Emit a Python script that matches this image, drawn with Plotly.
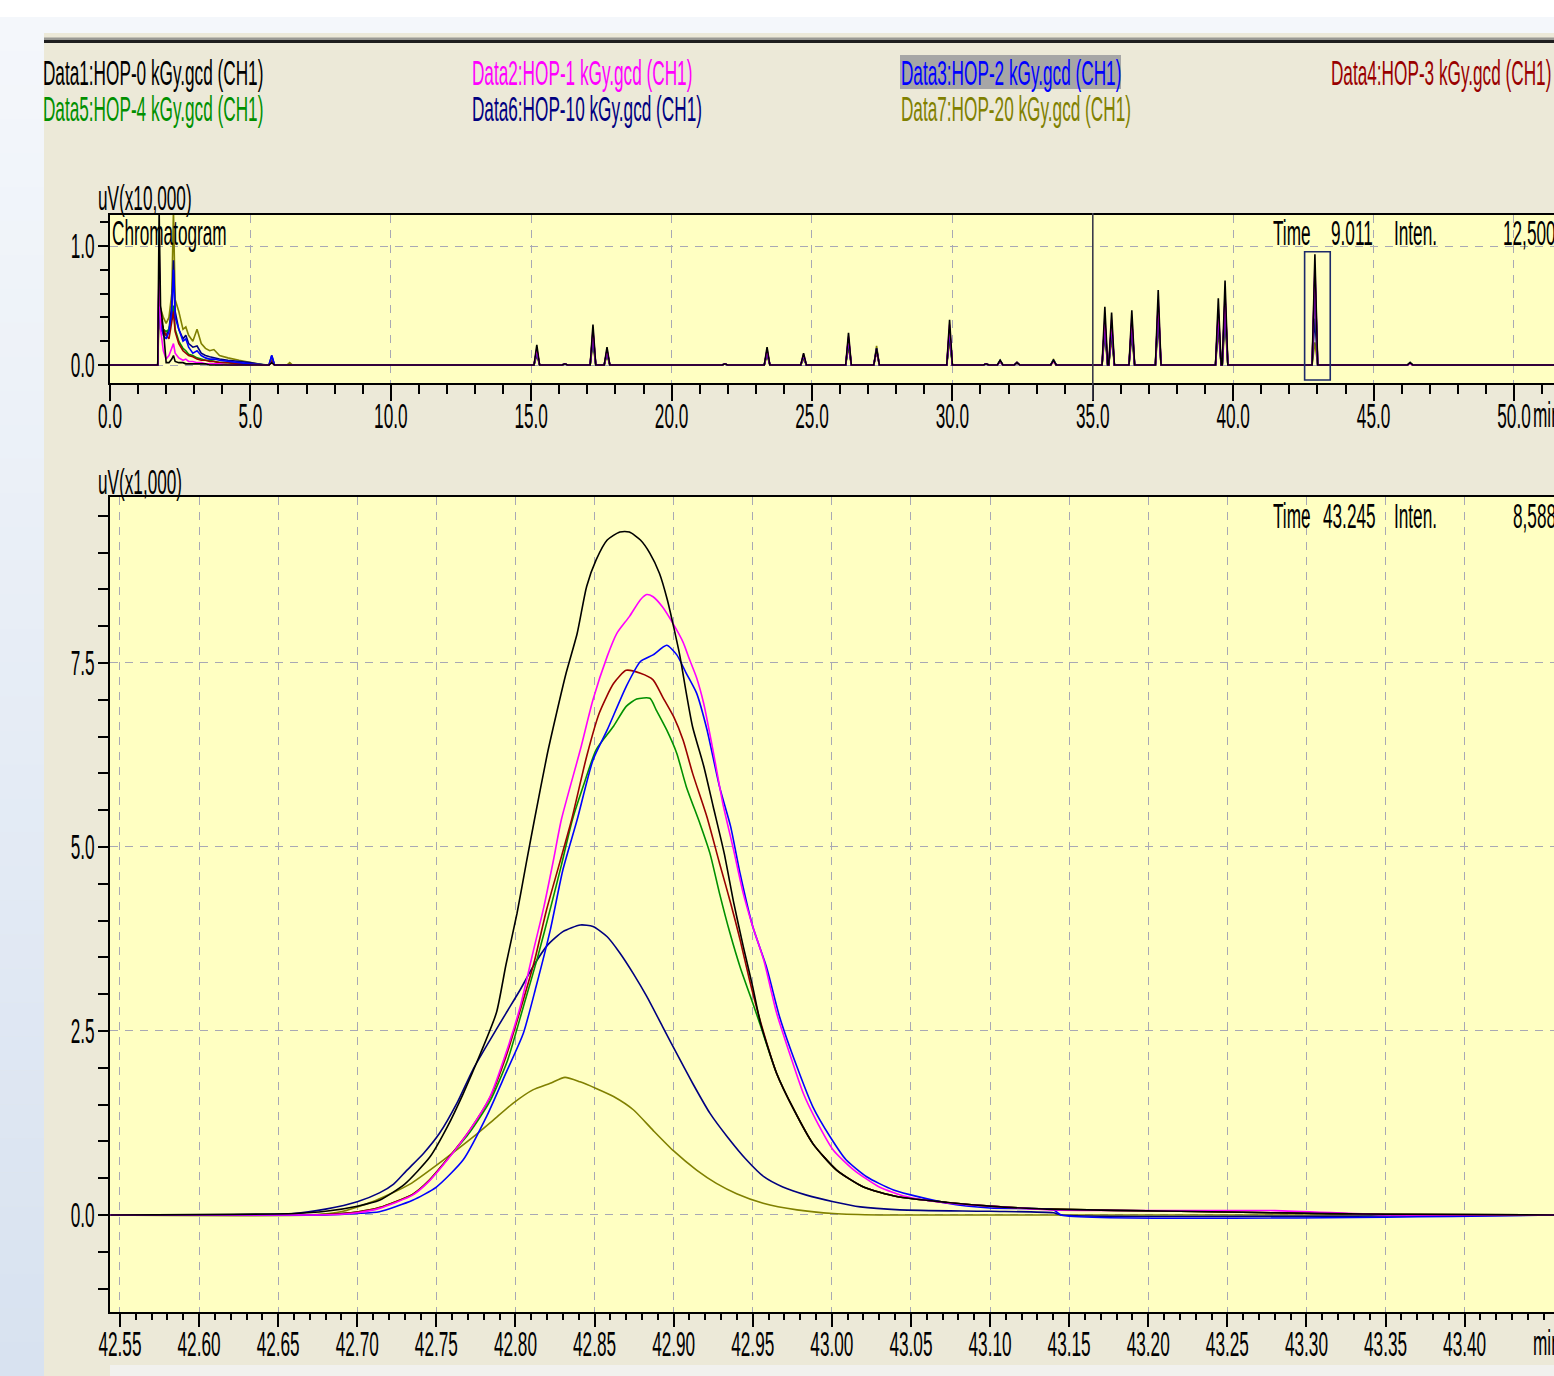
import plotly.graph_objects as go

W, H = 1554, 1376
FONT = "Liberation Sans, Arial, sans-serif"
FS = 17.2          # horizontal metrics of the reference lettering
STRETCH_Y = 2.05   # the reference lettering is tall and narrow

# ---------------- data ----------------
series_names = [
    "Data1:HOP-0 kGy.gcd (CH1)", "Data2:HOP-1 kGy.gcd (CH1)", "Data3:HOP-2 kGy.gcd (CH1)",
    "Data4:HOP-3 kGy.gcd (CH1)", "Data5:HOP-4 kGy.gcd (CH1)", "Data6:HOP-10 kGy.gcd (CH1)",
    "Data7:HOP-20 kGy.gcd (CH1)",
]
series_colors = ["#000000", "#FF00FF", "#0000FF", "#990000", "#009000", "#000080", "#808000"]

# zoomed window (min, uV x1,000)
x1 = [42.544, 42.66, 42.68, 42.70, 42.714, 42.73, 42.746, 42.757, 42.767, 42.778, 42.788, 42.794, 42.801,
      42.807, 42.812, 42.820, 42.826, 42.832, 42.839, 42.845, 42.851, 42.858, 42.866, 42.872, 42.879, 42.885,
      42.891, 42.896, 42.900, 42.904, 42.908, 42.912, 42.919, 42.925, 42.932, 42.938, 42.944, 42.950, 42.955,
      42.965, 42.976, 42.988, 43.003, 43.020, 43.041, 43.073, 43.100, 43.136, 43.22, 43.28, 43.35, 43.46]
y1 = [0, 0.02, 0.05, 0.12, 0.20, 0.42, 0.79, 1.20, 1.65, 2.20, 2.75, 3.40, 4.10, 4.80, 5.37, 6.25, 6.82, 7.36,
      7.90, 8.54, 8.90, 9.17, 9.28, 9.28, 9.17, 8.99, 8.72, 8.36, 7.99, 7.59, 7.09, 6.63, 6.10, 5.55, 4.91, 4.24,
      3.65, 3.10, 2.60, 1.93, 1.43, 0.97, 0.61, 0.38, 0.25, 0.17, 0.12, 0.08, 0.05, 0.03, 0.01, 0.0]

x2 = [42.544, 42.67, 42.69, 42.70, 42.714, 42.735, 42.745, 42.757, 42.771, 42.784, 42.794, 42.803, 42.811,
      42.818, 42.824, 42.829, 42.841, 42.849, 42.858, 42.864, 42.872, 42.879, 42.883, 42.887, 42.893, 42.900,
      42.906, 42.910, 42.9145, 42.919, 42.925, 42.931, 42.938, 42.944, 42.950, 42.957, 42.965, 42.974, 42.982,
      42.990, 43.001, 43.014, 43.030, 43.047, 43.07, 43.10, 43.14, 43.22, 43.28, 43.355, 43.46]
y2 = [0, 0, 0.01, 0.03, 0.09, 0.27, 0.45, 0.75, 1.15, 1.61, 2.20, 2.83, 3.56, 4.19, 4.82, 5.37, 6.32, 7.00,
      7.59, 7.90, 8.13, 8.36, 8.43, 8.40, 8.26, 8.02, 7.78, 7.55, 7.30, 6.95, 6.30, 5.60, 4.95, 4.37, 3.92, 3.46,
      2.75, 2.15, 1.65, 1.29, 0.88, 0.61, 0.38, 0.25, 0.17, 0.12, 0.07, 0.06, 0.06, 0.0, 0.0]

x3 = [42.544, 42.68, 42.70, 42.714, 42.735, 42.750, 42.767, 42.782, 42.794, 42.805, 42.813, 42.822, 42.830,
      42.839, 42.849, 42.858, 42.870, 42.879, 42.887, 42.8956, 42.902, 42.908, 42.9145, 42.921, 42.929, 42.936,
      42.942, 42.950, 42.9587, 42.967, 42.978, 42.988, 42.999, 43.009, 43.022, 43.039, 43.073, 43.10, 43.14,
      43.145, 43.46]
y3 = [0, 0, 0.02, 0.045, 0.20, 0.38, 0.75, 1.35, 1.93, 2.47, 3.10, 3.87, 4.69, 5.37, 6.18, 6.59, 7.18, 7.52,
      7.61, 7.74, 7.61, 7.36, 7.09, 6.60, 5.82, 5.28, 4.64, 3.92, 3.37, 2.69, 2.01, 1.47, 1.06, 0.75, 0.52, 0.34,
      0.16, 0.095, 0.07, 0.0, 0.0]

x4 = [42.544, 42.67, 42.69, 42.70, 42.714, 42.735, 42.745, 42.757, 42.771, 42.784, 42.794, 42.803, 42.812,
      42.8197, 42.8275, 42.8355, 42.845, 42.853, 42.862, 42.870, 42.879, 42.887, 42.893, 42.900, 42.906, 42.912,
      42.921, 42.929, 42.936, 42.942, 42.948, 42.955, 42.965, 42.976, 42.988, 43.003, 43.020, 43.041, 43.073,
      43.10, 43.136, 43.22, 43.28, 43.35, 43.46]
y4 = [0, 0, 0.02, 0.04, 0.10, 0.28, 0.46, 0.76, 1.15, 1.60, 2.15, 2.78, 3.45, 4.15, 4.75, 5.37, 6.23, 6.82,
      7.22, 7.40, 7.36, 7.27, 7.04, 6.77, 6.45, 6.00, 5.41, 4.78, 4.24, 3.74, 3.19, 2.62, 1.93, 1.43, 0.97, 0.61,
      0.38, 0.25, 0.17, 0.12, 0.08, 0.05, 0.03, 0.01, 0]

x5 = [42.544, 42.67, 42.69, 42.70, 42.714, 42.735, 42.745, 42.757, 42.771, 42.784, 42.795, 42.805, 42.814,
      42.8224, 42.829, 42.836, 42.844, 42.851, 42.862, 42.870, 42.8766, 42.885, 42.889, 42.8956, 42.902, 42.908,
      42.9166, 42.923, 42.929, 42.9356, 42.942, 42.950, 42.9545, 42.965, 42.976, 42.988, 43.003, 43.020, 43.041,
      43.073, 43.10, 43.136, 43.22, 43.28, 43.35, 43.46]
y5 = [0, 0, 0.02, 0.04, 0.10, 0.28, 0.46, 0.76, 1.12, 1.55, 2.10, 2.83, 3.50, 4.19, 4.75, 5.37, 5.90, 6.32,
      6.64, 6.91, 7.01, 7.02, 6.86, 6.59, 6.27, 5.82, 5.32, 4.91, 4.37, 3.83, 3.37, 2.88, 2.60, 1.93, 1.43, 0.97,
      0.61, 0.38, 0.25, 0.17, 0.12, 0.08, 0.05, 0.03, 0.01, 0]

x6 = [42.544, 42.66, 42.68, 42.70, 42.714, 42.723, 42.731, 42.742, 42.752, 42.763, 42.773, 42.784, 42.794,
      42.803, 42.811, 42.820, 42.830, 42.841, 42.849, 42.858, 42.866, 42.8745, 42.883, 42.893, 42.904, 42.912,
      42.923, 42.934, 42.946, 42.957, 42.969, 42.984, 43.001, 43.018, 43.043, 43.10, 43.14, 43.145, 43.46]
y6 = [0, 0.02, 0.08, 0.18, 0.30, 0.42, 0.60, 0.84, 1.11, 1.52, 1.97, 2.38, 2.74, 3.06, 3.37, 3.66, 3.85, 3.94,
      3.92, 3.78, 3.56, 3.28, 2.97, 2.56, 2.11, 1.79, 1.38, 1.06, 0.75, 0.52, 0.38, 0.27, 0.18, 0.11, 0.07, 0.05,
      0.03, 0, 0]

x7 = [42.544, 42.67, 42.691, 42.712, 42.7333, 42.754, 42.7733, 42.786, 42.7986, 42.811, 42.822, 42.8313,
      42.8408, 42.851, 42.862, 42.8745, 42.887, 42.900, 42.9145, 42.927, 42.9398, 42.9566, 42.978, 43.001,
      43.03, 43.46]
y7 = [0, 0, 0.05, 0.20, 0.42, 0.74, 1.06, 1.29, 1.52, 1.70, 1.79, 1.87, 1.81, 1.72, 1.61, 1.43, 1.15, 0.87,
      0.61, 0.43, 0.29, 0.16, 0.07, 0.02, 0, 0]

zoom_x = [x1, x2, x3, x4, x5, x6, x7]
zoom_y = [y1, y2, y3, y4, y5, y6, y7]

# overview chromatogram (min, uV x10,000): solvent region samples
solvent_t = [1.70, 1.75, 1.80, 1.90, 2.00, 2.10, 2.20, 2.26, 2.32, 2.45, 2.60, 2.70, 2.80, 2.95, 3.10, 3.25,
             3.40, 3.55, 3.70, 3.90, 4.20, 4.60, 5.00, 5.50]
solvent_h = [
    [0, 1.30, 0.50, 0.30, 0.02, 0.02, 0.05, 0.08, 0.03, 0.02, 0.02, 0.01, 0.01, 0.01, 0.01, 0.01, 0.01, 0, 0, 0, 0, 0, 0, 0],
    [0, 0.95, 0.30, 0.12, 0.05, 0.08, 0.15, 0.18, 0.10, 0.06, 0.04, 0.05, 0.03, 0.03, 0.02, 0.02, 0.01, 0.01, 0.01, 0.01, 0, 0, 0, 0],
    [0, 0.85, 0.35, 0.25, 0.22, 0.28, 0.45, 0.80, 0.40, 0.30, 0.20, 0.22, 0.15, 0.10, 0.12, 0.08, 0.06, 0.05, 0.05, 0.04, 0.03, 0.02, 0.01, 0],
    [0, 0.80, 0.40, 0.30, 0.25, 0.22, 0.35, 0.45, 0.28, 0.18, 0.12, 0.10, 0.08, 0.07, 0.05, 0.04, 0.04, 0.03, 0.03, 0.02, 0.02, 0.01, 0.01, 0],
    [0, 0.75, 0.38, 0.30, 0.28, 0.30, 0.40, 0.50, 0.30, 0.20, 0.14, 0.12, 0.09, 0.08, 0.06, 0.05, 0.04, 0.04, 0.03, 0.02, 0.02, 0.01, 0.01, 0],
    [0, 0.60, 0.30, 0.27, 0.25, 0.30, 0.50, 0.88, 0.45, 0.30, 0.22, 0.25, 0.18, 0.15, 0.16, 0.10, 0.08, 0.07, 0.06, 0.05, 0.04, 0.03, 0.02, 0],
    [0, 0.45, 0.48, 0.40, 0.35, 0.40, 0.60, 1.30, 0.55, 0.45, 0.30, 0.32, 0.25, 0.20, 0.30, 0.18, 0.14, 0.12, 0.13, 0.08, 0.06, 0.04, 0.02, 0],
]
# overview: discrete peaks (retention time, apex height per series)
peak_t = [5.76, 6.4, 15.2, 16.2, 17.2, 17.7, 21.9, 23.4, 24.7, 26.3, 27.3, 29.9, 31.2, 31.7, 32.3, 33.6,
          35.43, 35.67, 36.39, 37.33, 39.47, 39.71, 42.91, 46.3]
peak_h = [
    [0.02, 0.00, 0.17, 0.01, 0.34, 0.15, 0.01, 0.15, 0.10, 0.27, 0.14, 0.38, 0.01, 0.04, 0.02, 0.04, 0.49, 0.44, 0.46, 0.63, 0.56, 0.71, 0.93, 0.02],
    [0.02, 0.00, 0.14, 0.01, 0.30, 0.13, 0.01, 0.13, 0.09, 0.24, 0.13, 0.34, 0.01, 0.03, 0.02, 0.03, 0.40, 0.38, 0.40, 0.55, 0.47, 0.60, 0.84, 0.01],
    [0.08, 0.00, 0.12, 0.01, 0.27, 0.12, 0.01, 0.12, 0.08, 0.22, 0.14, 0.30, 0.01, 0.03, 0.02, 0.04, 0.36, 0.34, 0.36, 0.50, 0.43, 0.55, 0.77, 0.01],
    [0.03, 0.00, 0.13, 0.01, 0.28, 0.12, 0.01, 0.12, 0.08, 0.22, 0.12, 0.30, 0.01, 0.03, 0.02, 0.03, 0.36, 0.33, 0.36, 0.50, 0.42, 0.56, 0.74, 0.01],
    [0.03, 0.00, 0.12, 0.01, 0.26, 0.11, 0.01, 0.11, 0.07, 0.20, 0.12, 0.28, 0.01, 0.03, 0.02, 0.03, 0.34, 0.31, 0.34, 0.47, 0.40, 0.52, 0.70, 0.01],
    [0.08, 0.00, 0.10, 0.01, 0.22, 0.10, 0.01, 0.10, 0.07, 0.18, 0.12, 0.25, 0.01, 0.04, 0.02, 0.04, 0.30, 0.28, 0.30, 0.40, 0.35, 0.45, 0.39, 0.02],
    [0.04, 0.02, 0.08, 0.01, 0.18, 0.08, 0.01, 0.08, 0.05, 0.15, 0.16, 0.20, 0.01, 0.03, 0.02, 0.05, 0.25, 0.22, 0.24, 0.33, 0.28, 0.36, 0.19, 0.02],
]
peak_halfwidth = 0.1  # drawing style for the overview spikes

over_x_ticks = [0, 5, 10, 15, 20, 25, 30, 35, 40, 45, 50]
over_x_text = ["0.0", "5.0", "10.0", "15.0", "20.0", "25.0", "30.0", "35.0", "40.0", "45.0", "50.0"]
over_y_ticks = [0.0, 1.0]
over_y_text = ["0.0", "1.0"]
zoom_x_ticks = [42.55, 42.60, 42.65, 42.70, 42.75, 42.80, 42.85, 42.90, 42.95, 43.00, 43.05, 43.10, 43.15,
                43.20, 43.25, 43.30, 43.35, 43.40]
zoom_x_text = ["%.2f" % v for v in zoom_x_ticks]
zoom_y_ticks = [0.0, 2.5, 5.0, 7.5]
zoom_y_text = ["0.0", "2.5", "5.0", "7.5"]

cursor_time = 35.0
over_range_x = [0, 51.425]
over_range_y = [-0.151, 1.2605]
zoom_range_x = [42.5437, 43.4565]
zoom_range_y = [-1.318, 9.755]
zoom_box_y = [-0.126, 0.952]


# ---------------- helpers ----------------
def pxx(x):
    return x / W


def pxy(y):
    return 1 - y / H


fig = go.Figure()

# overview traces (drawn olive first, black last)
for i in reversed(range(7)):
    xs = [0.0] + list(solvent_t)
    ys = [0.0] + list(solvent_h[i])
    for t, h in zip(peak_t, peak_h[i]):
        xs += [t - peak_halfwidth, t, t + peak_halfwidth]
        ys += [0.0, h, 0.0]
    xs.append(over_range_x[1] + 1)
    ys.append(0.0)
    fig.add_trace(go.Scatter(x=xs, y=ys, mode="lines", xaxis="x2", yaxis="y2",
                             line=dict(color=series_colors[i], width=1.6), showlegend=False,
                             name=series_names[i], hoverinfo="skip"))

# zoomed traces
for i in reversed(range(7)):
    fig.add_trace(go.Scatter(x=zoom_x[i], y=zoom_y[i], mode="lines", xaxis="x", yaxis="y",
                             line=dict(color=series_colors[i], width=1.6, shape="spline", smoothing=0.6),
                             showlegend=False, name=series_names[i], hoverinfo="skip"))

tickfont = dict(family=FONT, size=FS, color="#000000")
grid_common = dict(gridcolor="#A8A8B4", griddash="8px,7px", gridwidth=1)
minor_common = dict(tickwidth=1.5, tickcolor="#000", ticks="outside", showgrid=False)

fig.update_layout(
    template="none",
    width=W, height=H,
    margin=dict(l=0, r=0, t=0, b=0, pad=0),
    paper_bgcolor="#ECE9D8",
    plot_bgcolor="#FFFFC2",
    showlegend=False,
    xaxis=dict(domain=[pxx(110), 1.0], range=zoom_range_x, anchor="y", automargin=False,
               tickmode="array", tickvals=zoom_x_ticks, ticktext=zoom_x_text,
               ticks="outside", ticklen=13, tickwidth=1.5, tickcolor="#000",
               minor=dict(tick0=42.55, dtick=0.01, ticklen=6, **minor_common),
               showline=True, linecolor="#000", linewidth=2, mirror=True,
               showgrid=True, **grid_common, zeroline=False, tickfont=tickfont, ticklabelstandoff=2),
    yaxis=dict(domain=[pxy(1312), pxy(497)], range=zoom_range_y, anchor="x", automargin=False,
               tickmode="array", tickvals=zoom_y_ticks, ticktext=zoom_y_text,
               ticks="outside", ticklen=10, tickwidth=1.5, tickcolor="#000",
               minor=dict(tick0=0, dtick=0.5, ticklen=10, **minor_common),
               showline=True, linecolor="#000", linewidth=2, mirror=False,
               showgrid=True, **grid_common, zeroline=False, tickfont=tickfont, ticklabelstandoff=0),
    xaxis2=dict(domain=[pxx(110), 1.0], range=over_range_x, anchor="y2", automargin=False,
                tickmode="array", tickvals=over_x_ticks, ticktext=over_x_text,
                ticks="outside", ticklen=16, tickwidth=1.5, tickcolor="#000",
                minor=dict(tick0=0, dtick=1, ticklen=9, **minor_common),
                showline=True, linecolor="#000", linewidth=2, mirror=True,
                showgrid=True, **grid_common, zeroline=False, tickfont=tickfont, ticklabelstandoff=0),
    yaxis2=dict(domain=[pxy(383), pxy(215)], range=over_range_y, anchor="x2", automargin=False,
                tickmode="array", tickvals=over_y_ticks, ticktext=over_y_text,
                ticks="outside", ticklen=10, tickwidth=1.5, tickcolor="#000",
                minor=dict(tick0=0, dtick=0.2, ticklen=8, **minor_common),
                showline=True, linecolor="#000", linewidth=2, mirror=False,
                showgrid=True, **grid_common, zeroline=False, tickfont=tickfont, ticklabelstandoff=0),
)


def mix(c1, c2, f):
    a = [int(c1[i:i + 2], 16) for i in (1, 3, 5)]
    b = [int(c2[i:i + 2], 16) for i in (1, 3, 5)]
    return "#%02X%02X%02X" % tuple(round(a[k] + (b[k] - a[k]) * f) for k in range(3))


shapes = []
# page chrome
shapes.append(dict(type="rect", xref="paper", yref="paper", x0=0, x1=1, y0=pxy(33), y1=1,
                   fillcolor="#F4F7FB", line=dict(width=0), layer="below"))
shapes.append(dict(type="rect", xref="paper", yref="paper", x0=0, x1=1, y0=pxy(17), y1=1,
                   fillcolor="#FFFFFF", line=dict(width=0), layer="below"))
n_bands = 40
for k in range(n_bands):
    y0 = 17 + k * (H - 17) / n_bands
    y1_ = 17 + (k + 1) * (H - 17) / n_bands + 0.5
    c = mix("#F4F7FB", "#D8E2F0", k / (n_bands - 1))
    shapes.append(dict(type="rect", xref="paper", yref="paper", x0=0, x1=pxx(44), y0=pxy(y1_), y1=pxy(y0),
                       fillcolor=c, line=dict(width=0), layer="below"))
shapes.append(dict(type="rect", xref="paper", yref="paper", x0=pxx(44), x1=1, y0=pxy(40), y1=pxy(37.5),
                   fillcolor="#9A9A94", line=dict(width=0), layer="below"))
shapes.append(dict(type="rect", xref="paper", yref="paper", x0=pxx(44), x1=1, y0=pxy(43), y1=pxy(40),
                   fillcolor="#1E1E1E", line=dict(width=0), layer="below"))
# bottom scrollbar strip
shapes.append(dict(type="rect", xref="paper", yref="paper", x0=pxx(110), x1=1, y0=0, y1=pxy(1365),
                   fillcolor="#F1F1EE", line=dict(width=0), layer="below"))
# highlight behind Data3 legend entry
shapes.append(dict(type="rect", xref="paper", yref="paper", x0=pxx(900), x1=pxx(1121), y0=pxy(89), y1=pxy(55),
                   fillcolor="#A6A6A6", line=dict(width=0), layer="below"))
# zoom box on the overview
shapes.append(dict(type="rect", xref="x2", yref="y2", x0=zoom_range_x[0], x1=zoom_range_x[1],
                   y0=zoom_box_y[0], y1=zoom_box_y[1], line=dict(color="#1C2A6A", width=1.6),
                   fillcolor="rgba(0,0,0,0)", layer="above"))
# cursor line on the overview
shapes.append(dict(type="line", xref="x2", yref="paper", x0=cursor_time, x1=cursor_time,
                   y0=pxy(400), y1=pxy(213), line=dict(color="#3A3A4A", width=1.6), layer="above"))
fig.update_layout(shapes=shapes)

ann = []


def text(x, y, s, color="#000000", anchor="left"):
    ann.append(dict(xref="paper", yref="paper", x=pxx(x), y=pxy(y), text=s, showarrow=False,
                    xanchor=anchor, yanchor="middle", borderpad=0,
                    font=dict(family=FONT, size=FS, color=color)))


legend_pos = [(42, 73), (471, 73), (900, 73), (1330, 73), (42, 109), (471, 109), (900, 109)]
for (lx, ly), name, col in zip(legend_pos, series_names, series_colors):
    text(lx, ly, name, color=col)

text(97, 198, "uV(x10,000)")
text(111, 233, "Chromatogram")
text(1272, 233, "Time")
text(1330, 233, "9.011")
text(1393, 233, "Inten.")
text(1502, 233, "12,500")
text(1532, 415, "min")

text(97, 482, "uV(x1,000)")
text(1272, 516, "Time")
text(1322, 516, "43.245")
text(1393, 516, "Inten.")
text(1512, 516, "8,588")
text(1532, 1343, "min")

fig.update_layout(annotations=ann)

post = """
(function(){
  document.documentElement.style.overflow = 'hidden';
  document.body.style.margin = '0';
  document.body.style.padding = '0';
  document.body.style.overflow = 'hidden';
  var gd = document.getElementById('{plot_id}');
  if (!gd) { return; }
  var texts = gd.querySelectorAll('svg text');
  texts.forEach(function(t){
    try {
      if (!t.textContent) { return; }
      var t0 = t.getAttribute('transform') || '';
      var b = t.getBBox();
      var cx = b.x + b.width / 2, cy = b.y + b.height / 2;
      t.setAttribute('transform', t0 + ' translate(' + cx + ',' + cy + ') scale(1,%s) translate(' + (-cx) + ',' + (-cy) + ')');
    } catch (e) {}
  });
})();
""" % STRETCH_Y

fig.write_html("out.html", post_script=post, config={"responsive": False, "displayModeBar": False})
